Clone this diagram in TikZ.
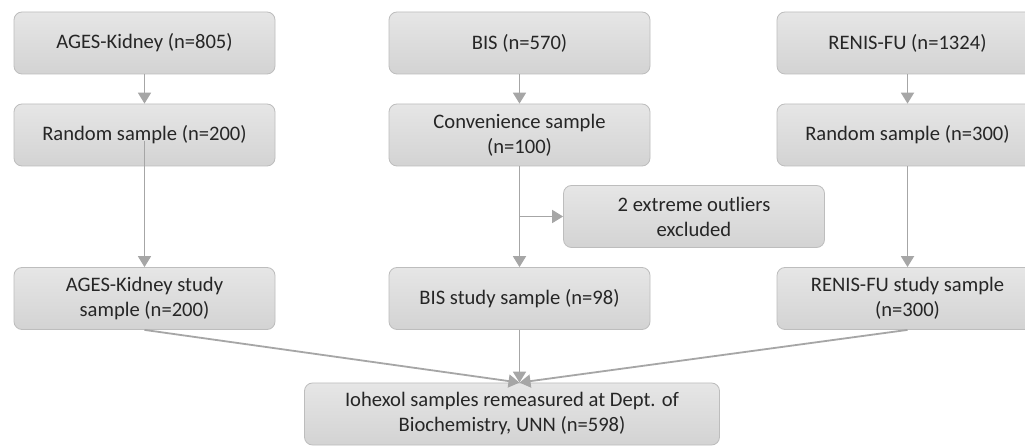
\documentclass[tikz,border=0pt]{standalone}
\usepackage{fontspec}
\setmainfont{Carlito}
\usetikzlibrary{arrows.meta,calc}
\definecolor{boxtop}{HTML}{E6E6E6}
\definecolor{boxbot}{HTML}{D3D3D3}
\definecolor{boxline}{HTML}{BDBDBD}
\definecolor{arr}{HTML}{A6A6A6}
\definecolor{txt}{HTML}{262626}
\tikzset{
  box/.style={draw=boxline, line width=0.8pt, rounded corners=8pt, top color=boxtop, bottom color=boxbot,
    minimum width=261pt, minimum height=62pt, align=center, text=txt, inner sep=2pt,
    font=\fontsize{20.6}{25}\selectfont},
  conn/.style={draw=arr, line width=1.8pt, -{Triangle[length=11pt,width=13pt]}},
  plain/.style={draw=arr, line width=1.8pt}
}
\begin{document}
\begin{tikzpicture}[x=1pt,y=1pt]
\useasboundingbox (0,0) rectangle (1025,447);
\fill[white] (0,0) rectangle (1025,447);
% row 1
\node[box] (ages) at (144.5,404) {AGES-Kidney (n=805)};
\node[box] (bis) at (519.5,404) {BIS (n=570)};
\node[box] (renis) at (907.5,404) {RENIS-FU (n=1324)};
% row 2
\node[box] (rand2) at (144.5,312) {Random sample (n=200)};
\node[box] (conv) at (519.5,312) {Convenience sample\\(n=100)};
\node[box] (rand3) at (907.5,312) {Random sample (n=300)};
% outliers
\node[box] (out) at (694,230.5) {2 extreme outliers\\excluded};
% row 3
\node[box] (agess) at (144.5,148.5) {AGES-Kidney study\\sample (n=200)};
\node[box] (biss) at (519.5,148.5) {BIS study sample (n=98)};
\node[box] (reniss) at (907.5,148.5) {RENIS-FU study sample\\(n=300)};
% bottom
\node[box, minimum width=415pt] (ioh) at (512,33) {Iohexol samples remeasured at Dept. of\\Biochemistry, UNN (n=598)};
% coordinates
\coordinate (r2start) at ($(rand2.center)+(0,-6)$);
\coordinate (branch) at (biss.north |- out.west);
\coordinate (meet) at (biss.center |- ioh.north);
% connectors
\draw[conn] (ages) -- (rand2);
\draw[conn] (bis) -- (conv);
\draw[conn] (renis) -- (rand3);
\draw[conn] (r2start) -- (agess.north);
\draw[conn] (conv) -- (biss);
\draw[conn] (branch) -- (out.west);
\draw[conn] (rand3) -- (reniss);
\draw[conn] (agess.south) -- (meet);
\draw[conn] (biss.south) -- (meet);
\draw[conn] (reniss.south) -- (meet);
\end{tikzpicture}
\end{document}
